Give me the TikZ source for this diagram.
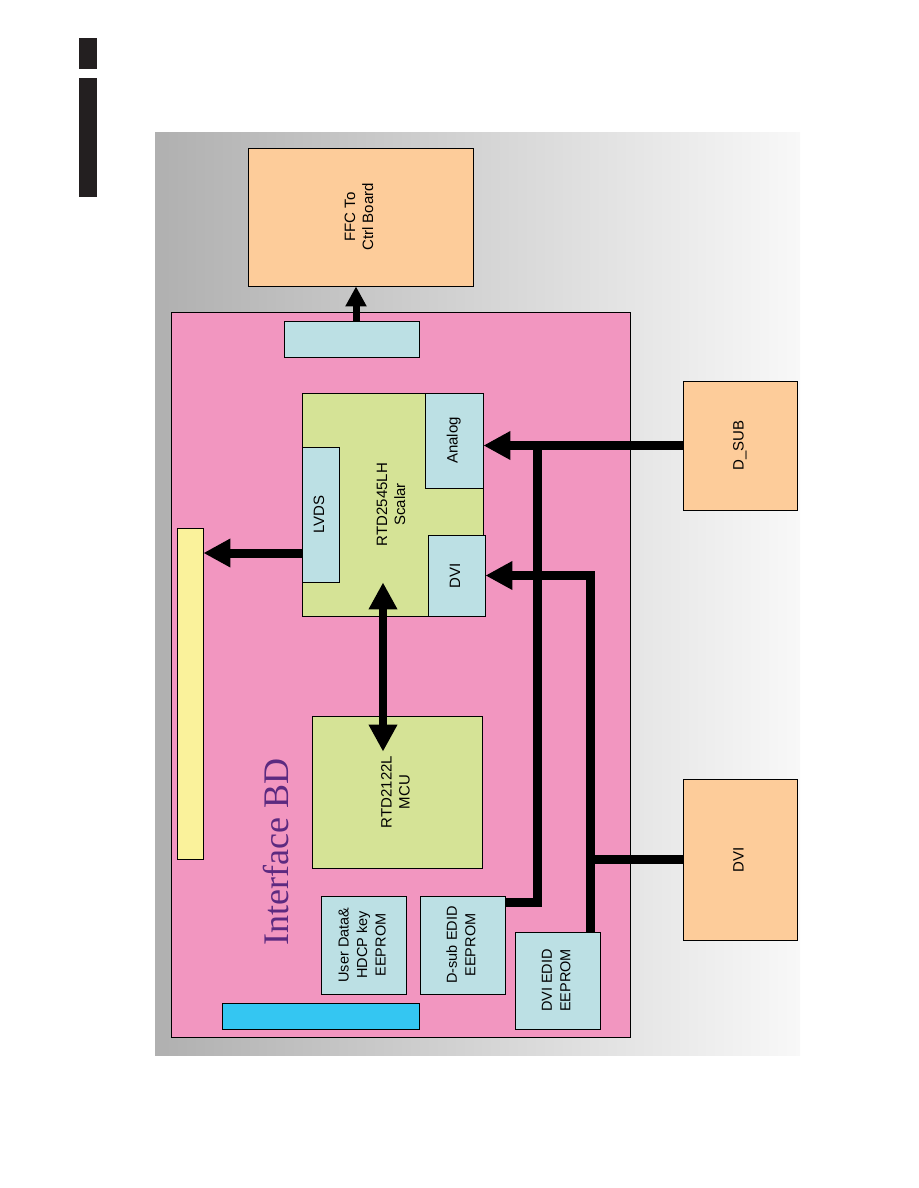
\documentclass[tikz,border=0pt]{standalone}
\usepackage{fontspec}
\setmainfont{Liberation Sans}
\newfontfamily\bdserif{Liberation Serif}
\usetikzlibrary{arrows.meta}
\definecolor{boardpink}{RGB}{242,150,192}
\definecolor{chipgreen}{RGB}{213,227,150}
\definecolor{portcyan}{RGB}{188,224,228}
\definecolor{peach}{RGB}{253,204,154}
\definecolor{baryellow}{RGB}{250,242,155}
\definecolor{barblue}{RGB}{52,198,242}
\definecolor{bdpurple}{RGB}{92,42,128}
\definecolor{panelL}{RGB}{176,176,176}
\definecolor{panelR}{RGB}{248,248,248}
\definecolor{barblack}{RGB}{35,31,32}
\newcommand{\rt}[1]{\rotatebox{90}{\begin{tabular}{@{}c@{}}#1\end{tabular}}}
\tikzset{
  box/.style={draw=black, line width=0.8pt, inner sep=0pt, align=center,
    font=\fontsize{15}{18}\selectfont},
  smallfont/.style={font=\fontsize{14.5}{18.5}\selectfont},
  conn/.style={line width=9pt, draw=black},
  tip/.style={-{Triangle[width=27pt,length=27pt]}},
}
\begin{document}
\begin{tikzpicture}[x=1pt,y=-1pt]
\useasboundingbox (0,0) rectangle (918,1188);
% black bars
\fill[barblack] (79,38) rectangle (97,69);
\fill[barblack] (79,78) rectangle (97,197);
% background panel
\fill[left color=panelL, right color=panelR] (155,133) rectangle (800,1055);
% external boxes
\node[box, fill=peach, minimum width=225pt, minimum height=138pt] (ffc) at (360.5,217) {\rt{FFC To\\Ctrl Board}};
\node[box, fill=peach, minimum width=114pt, minimum height=129pt] (dsub) at (740,445.5) {\rt{D\_SUB}};
\node[box, fill=peach, minimum width=114pt, minimum height=161pt] (dviext) at (740,859.5) {\rt{DVI}};
% board
\node[box, fill=boardpink, minimum width=459pt, minimum height=725pt] (board) at (400.5,674.5) {};
\node[anchor=base, rotate=90, text=bdpurple, font=\bdserif\fontsize{36}{36}\selectfont, inner sep=0pt] (bdlabel) at (288,852) {Interface BD};
\node[box, fill=portcyan, minimum width=135pt, minimum height=36pt] (lvdsconn) at (351.5,339) {};
\node[box, fill=chipgreen, minimum width=181pt, minimum height=223pt] (scalar) at (392.5,504.5) {\rt{RTD2545LH\\Scalar}};
\node[box, fill=portcyan, minimum width=58pt, minimum height=95pt] (analog) at (454,440.5) {\rt{Analog}};
\node[box, fill=portcyan, minimum width=37pt, minimum height=135pt] (lvds) at (320.5,514.5) {\rt{LVDS}};
\node[box, fill=portcyan, minimum width=57pt, minimum height=81pt] (dviin) at (456.5,575.5) {\rt{DVI}};
\node[box, fill=baryellow, minimum width=26pt, minimum height=331pt] (ybar) at (190,693.5) {};
\node[box, fill=chipgreen, minimum width=170pt, minimum height=152pt] (mcu) at (397,792) {\rt{RTD2122L\\MCU}};
\node[box, smallfont, fill=portcyan, minimum width=85pt, minimum height=98pt] (user) at (363.5,945) {\rt{User Data\&\\HDCP key\\EEPROM}};
\node[box, smallfont, fill=portcyan, minimum width=85pt, minimum height=98pt] (dsubedid) at (462.5,945) {\rt{D-sub EDID\\EEPROM}};
\node[box, smallfont, fill=portcyan, minimum width=85pt, minimum height=97pt] (dviedid) at (557.5,980.5) {\rt{DVI EDID\\EEPROM}};
\node[box, fill=barblue, minimum width=197pt, minimum height=26pt] (bbar) at (320.5,1016) {};
% connectors
\path (lvdsconn.north) ++(4.5,0) coordinate (pf);
\draw[line width=7pt, -{Triangle[width=20pt,length=20pt]}] (pf) -- (pf |- ffc.south);
\path (lvds.west) ++(0,38.5) coordinate (pl);
\draw[conn, tip] (pl) -- (pl -| ybar.east);
\path (scalar.south) ++(-9.5,0) coordinate (pm);
\draw[line width=8pt, {Triangle[width=27pt,length=27pt]}-{Triangle[width=27pt,length=27pt]}, shorten <=-34pt, shorten >=-36pt] (pm) -- (pm |- mcu.north);
\draw[conn, tip] (dsub.west) -- (dsub.west -| analog.east);
\path (dsubedid.north east) ++(0,7) coordinate (pd);
\coordinate (jd) at (537,445.5);
\draw[conn] (pd) -| (jd);
\path (dviedid.north) ++(32.5,0) coordinate (pv);
\draw[conn, tip] (pv) |- (dviin.east);
\draw[conn] (dviext.west) -- (dviext.west -| pv);
\end{tikzpicture}
\end{document}
